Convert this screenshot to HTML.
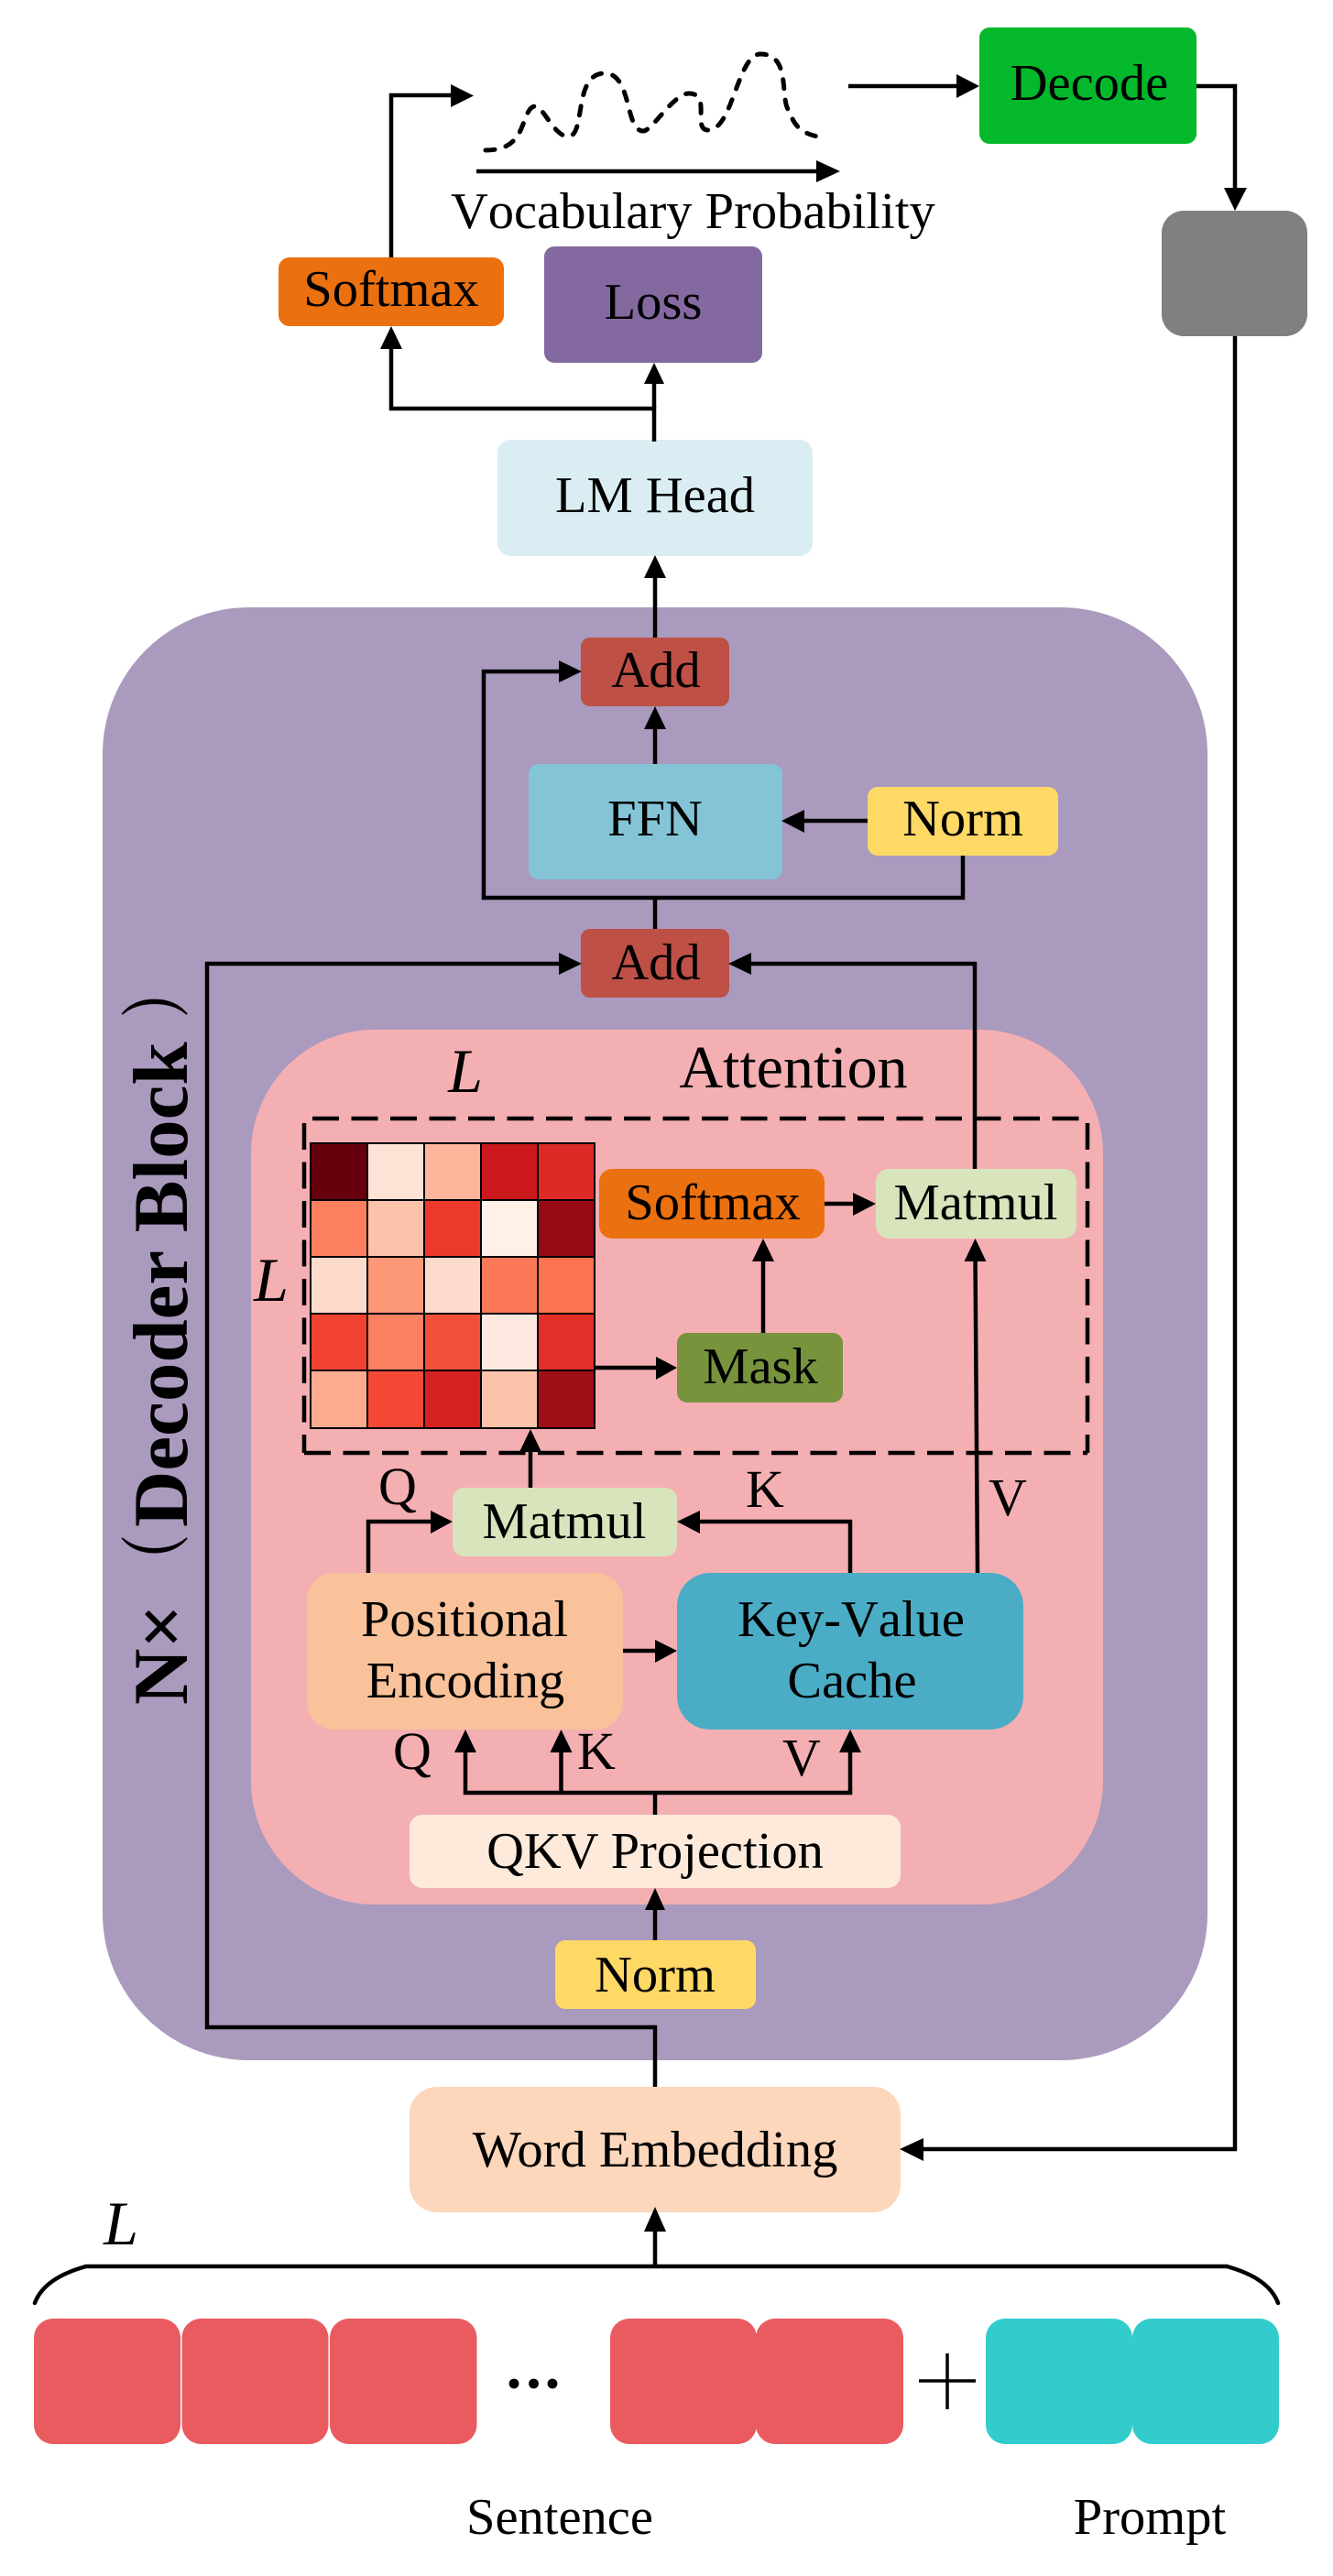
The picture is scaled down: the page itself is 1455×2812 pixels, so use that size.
<!DOCTYPE html>
<html><head><meta charset="utf-8"><style>
html,body{margin:0;padding:0;background:#fff}
svg{display:block}
text{font-family:"Liberation Serif","Noto Serif CJK SC",serif;fill:#000}
.t{font-size:56.5px;text-anchor:middle}
.n{font-kerning:none}
.q{font-size:58px;text-anchor:middle}
.i{font-size:68px;font-style:italic;text-anchor:middle}
.b{font-size:85px;font-weight:bold}
.l{fill:none;stroke:#000;stroke-width:4.5}
.d{fill:none;stroke:#000;stroke-width:4.5;stroke-dasharray:29 13.5}
.a{fill:#000;stroke:none}
</style></head><body>
<svg width="1455" height="2812" viewBox="0 0 1455 2812" xmlns="http://www.w3.org/2000/svg">
<rect width="1455" height="2812" fill="#fff"/>
<!-- containers -->
<rect x="112" y="663" width="1206" height="1586" rx="160" ry="160" fill="#AA9ABE"/>
<rect x="274" y="1124" width="930" height="955" rx="135" ry="135" fill="#F4AFB3"/>
<!-- boxes -->
<rect x="1069" y="30" width="237" height="127" rx="11" fill="#03B92B"/>
<rect x="1268" y="230" width="159" height="137" rx="24" fill="#808080"/>
<rect x="304" y="281" width="246" height="75" rx="12" fill="#EB700F"/>
<rect x="594" y="269" width="238" height="127" rx="11" fill="#8469A1"/>
<rect x="543" y="480" width="344" height="127" rx="14" fill="#DAEDF3"/>
<rect x="634" y="696" width="162" height="75" rx="10" fill="#BE5046"/>
<rect x="577" y="834" width="277" height="126" rx="11" fill="#83C5D6"/>
<rect x="947" y="859" width="208" height="75" rx="11" fill="#FFD966"/>
<rect x="634" y="1014" width="162" height="75" rx="10" fill="#BE5046"/>
<rect x="654" y="1276" width="246" height="76" rx="14" fill="#EB700F"/>
<rect x="956" y="1276" width="219" height="76" rx="14" fill="#D8E4BC"/>
<rect x="739" y="1455" width="181" height="76" rx="11" fill="#77933C"/>
<rect x="494" y="1624" width="245" height="75" rx="13" fill="#D8E4BC"/>
<rect x="335" y="1717" width="345" height="171" rx="30" fill="#F9C29A"/>
<rect x="739" y="1717" width="378" height="171" rx="36" fill="#4BACC6"/>
<rect x="447" y="1981" width="536" height="80" rx="14" fill="#FDEADA"/>
<rect x="606" y="2118" width="219" height="75" rx="11" fill="#FFD966"/>
<rect x="447" y="2278" width="536" height="137" rx="30" fill="#FCD7BB"/>
<!-- tokens -->
<g fill="#EA5B60">
<rect x="37" y="2531" width="160" height="137" rx="21"/>
<rect x="198.500" y="2531" width="160" height="137" rx="21"/>
<rect x="360" y="2531" width="160.500" height="137" rx="21"/>
<rect x="666" y="2531" width="160" height="137" rx="21"/>
<rect x="825" y="2531" width="161" height="137" rx="21"/>
</g>
<g fill="#33CCCC">
<rect x="1076" y="2531" width="160" height="137" rx="21"/>
<rect x="1236" y="2531" width="160" height="137" rx="21"/>
</g>
<!-- heatmap -->
<g stroke="#000" stroke-width="2">
<rect x="339" y="1248" width="62" height="62" fill="#67000D"/><rect x="401" y="1248" width="62" height="62" fill="#FEE2D6"/><rect x="463" y="1248" width="62" height="62" fill="#FDB59C"/><rect x="525" y="1248" width="62" height="62" fill="#CB181D"/><rect x="587" y="1248" width="62" height="62" fill="#DE2A26"/>
<rect x="339" y="1310" width="62" height="62" fill="#FC8060"/><rect x="401" y="1310" width="62" height="62" fill="#FDC2AA"/><rect x="463" y="1310" width="62" height="62" fill="#ED392B"/><rect x="525" y="1310" width="62" height="62" fill="#FFF0E8"/><rect x="587" y="1310" width="62" height="62" fill="#960B13"/>
<rect x="339" y="1372" width="62" height="62" fill="#FDDBCB"/><rect x="401" y="1372" width="62" height="62" fill="#FC9777"/><rect x="463" y="1372" width="62" height="62" fill="#FCDBCC"/><rect x="525" y="1372" width="62" height="62" fill="#FC7658"/><rect x="587" y="1372" width="62" height="62" fill="#FC7350"/>
<rect x="339" y="1434" width="62" height="62" fill="#F14130"/><rect x="401" y="1434" width="62" height="62" fill="#FC8062"/><rect x="463" y="1434" width="62" height="62" fill="#F44F39"/><rect x="525" y="1434" width="62" height="62" fill="#FEEAE1"/><rect x="587" y="1434" width="62" height="62" fill="#E32F27"/>
<rect x="339" y="1496" width="62" height="63" fill="#FCAB8F"/><rect x="401" y="1496" width="62" height="63" fill="#F44A35"/><rect x="463" y="1496" width="62" height="63" fill="#D52221"/><rect x="525" y="1496" width="62" height="63" fill="#FDC2AA"/><rect x="587" y="1496" width="62" height="63" fill="#A00F15"/>
</g>
<!-- dashed box -->
<path class="d" d="M341 1221H1187"/>
<path class="d" d="M332 1226V1586"/>
<path class="d" d="M1187 1226V1586"/>
<path class="d" d="M332 1586H1187"/>
<!-- connectors -->
<path class="l" d="M427 281V104H495"/>
<path class="a" d="M517 104.500L492 92V117Z"/>
<path class="l" d="M714 482V446H427V375"/>
<path class="a" d="M427 356L415 381H439Z"/>
<path class="l" d="M714 446V415"/>
<path class="a" d="M714 396L703 419H725Z"/>
<path class="l" d="M715 696V625"/>
<path class="a" d="M715 606L703 631H727Z"/>
<path class="l" d="M715 834V790"/>
<path class="a" d="M715 771L703 796H727Z"/>
<path class="l" d="M947 896H875"/>
<path class="a" d="M853 896L878 884V909Z"/>
<path class="l" d="M1051 934V980H528V733H615"/>
<path class="a" d="M635 733L610 721V745Z"/>
<path class="l" d="M715 980V1014"/>
<path class="l" d="M715 2278V2213H226V1052H615"/>
<path class="a" d="M635 1052L610 1040V1064Z"/>
<path class="l" d="M1064 1276V1052H815"/>
<path class="a" d="M795 1052L820 1040V1064Z"/>
<path class="l" d="M900 1314H935"/>
<path class="a" d="M956 1314L931 1302V1327Z"/>
<path class="l" d="M833 1455V1370"/>
<path class="a" d="M833 1352L821 1377H845Z"/>
<path class="l" d="M1067 1717L1064.500 1370"/>
<path class="a" d="M1064.500 1352L1052.500 1377H1076.500Z"/>
<path class="l" d="M650 1493H720"/>
<path class="a" d="M739 1493L716 1481V1506Z"/>
<path class="l" d="M579 1624V1580"/>
<path class="a" d="M579 1560L567 1585H591Z"/>
<path class="l" d="M402 1717V1661H475"/>
<path class="a" d="M494 1661L470 1649V1674Z"/>
<path class="l" d="M928 1717V1661H760"/>
<path class="a" d="M739 1661L764 1649V1674Z"/>
<path class="l" d="M680 1802H720"/>
<path class="a" d="M739 1802L715 1790V1815Z"/>
<path class="l" d="M715 1981V1957"/>
<path class="l" d="M508 1908V1957H928V1908"/>
<path class="l" d="M612.500 1957V1908"/>
<path class="a" d="M508 1888L496 1913H520Z"/>
<path class="a" d="M612.500 1888L600.500 1913H624.500Z"/>
<path class="a" d="M928 1888L916 1913H940Z"/>
<path class="l" d="M715 2118V2075"/>
<path class="a" d="M715 2061L704 2085H726Z"/>
<path class="l" d="M926 94H1050"/>
<path class="a" d="M1069 94L1044 81V107Z"/>
<path class="l" d="M1306 94H1348V210"/>
<path class="a" d="M1348 230L1336 205H1361Z"/>
<path class="l" d="M1348 367V2346H1000"/>
<path class="a" d="M982 2346L1008 2334V2359Z"/>
<path class="l" d="M520 187H895"/>
<path class="a" d="M917 187L891 175V199Z"/>
<path class="l" d="M715 2473V2430"/>
<path class="a" d="M715 2409L703 2436H727Z"/>
<path class="l" stroke-linecap="round" d="M38 2514C45 2495 65 2482 94 2474H1339C1368 2482 1388 2495 1395 2514"/>
<path fill="none" stroke="#000" stroke-width="5" stroke-linecap="round" stroke-dasharray="10 12.500" d="M530 164C545 164 555 160 562 152C572 142 574 116 584 116C593 116 605 149 620 149C640 149 625 80 660 80C690 80 682 143 702 143C712 143 735 102 752 102C777 102 755 142 773 142C800 142 805 59 830 59C865 59 850 110 862 122C867 138 875 145 892 149"/>
<path d="M1003 2599H1065M1034 2569V2630" fill="none" stroke="#000" stroke-width="3.500"/>
<g fill="#000"><circle cx="561" cy="2602" r="5.400"/><circle cx="582.500" cy="2602" r="5.400"/><circle cx="603" cy="2602" r="5.400"/></g>
<!-- text -->
<text class="t" x="1189" y="109">Decode</text>
<text class="n" x="492" y="249" style="font-size:56.5px">Vocabulary Probability</text>
<text class="t" x="427" y="334">Softmax</text>
<text class="t" x="713" y="348">Loss</text>
<text class="t" x="715" y="559">LM Head</text>
<text class="t" x="716" y="750">Add</text>
<text class="t" x="715" y="912">FFN</text>
<text class="t" x="1051" y="912">Norm</text>
<text class="t" x="716" y="1069">Add</text>
<text x="866" y="1187" style="font-size:66px;text-anchor:middle">Attention</text>
<text class="t" x="778" y="1331">Softmax</text>
<text class="t" x="1065" y="1331">Matmul</text>
<text class="t" x="830" y="1510">Mask</text>
<text class="t" x="616" y="1679">Matmul</text>
<text class="t" x="507" y="1786">Positional</text>
<text class="t" x="508" y="1853">Encoding</text>
<text class="t n" x="929" y="1786">Key-Value</text>
<text class="t" x="930" y="1853">Cache</text>
<text class="t" x="715" y="2039">QKV Projection</text>
<text class="t" x="715" y="2174">Norm</text>
<text class="t" x="715" y="2365">Word Embedding</text>
<text class="t" x="611" y="2766">Sentence</text>
<text class="t" x="1255" y="2766">Prompt</text>
<text class="q" x="434" y="1642">Q</text>
<text class="q" x="835" y="1645">K</text>
<text class="q" x="1100" y="1654">V</text>
<text class="q" x="450" y="1931">Q</text>
<text class="q" x="651" y="1931">K</text>
<text class="q" x="875" y="1938">V</text>
<text class="i" x="508" y="1192">L</text>
<text class="i" x="296" y="1420">L</text>
<text class="i" x="132" y="2450">L</text>
<text class="b" transform="translate(204 1861) rotate(-90)">N×</text>
<text class="b" transform="translate(198 1732) rotate(-90) scale(.67 .9)">（</text>
<text class="b" transform="translate(204 1667) rotate(-90)">Decoder Block</text>
<text class="b" transform="translate(198 1111) rotate(-90) scale(.67 .9)">）</text>
</svg>
</body></html>
